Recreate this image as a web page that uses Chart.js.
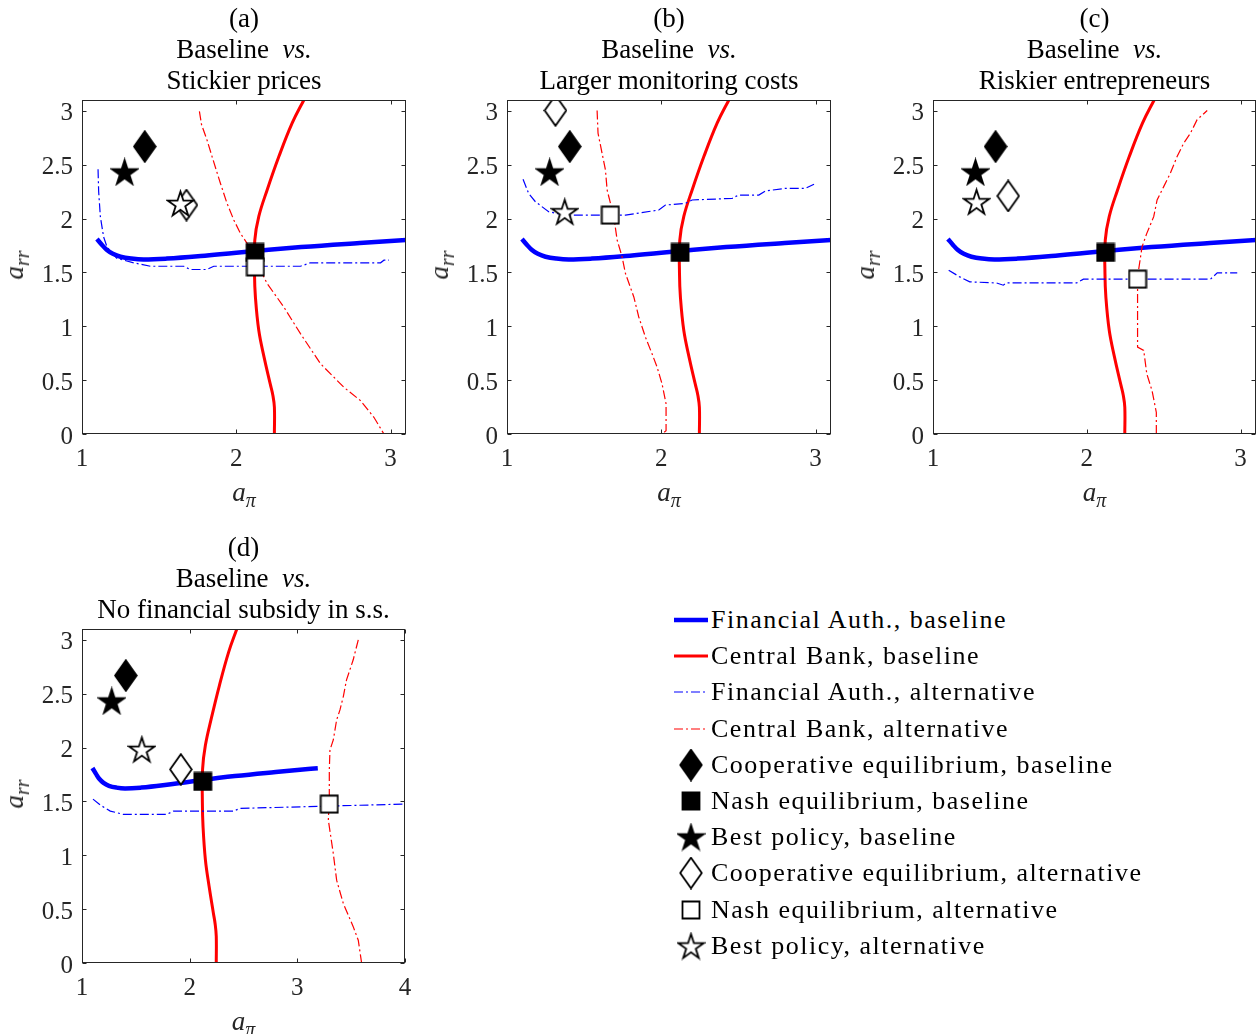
<!DOCTYPE html>
<html><head><meta charset="utf-8">
<script src="https://cdn.jsdelivr.net/npm/chart.js@4.4.1/dist/chart.umd.min.js"></script>
<style>
html,body{margin:0;padding:0;background:#fff;overflow:hidden;width:1256px;height:1034px;}
.abs{position:absolute;}
.title{font-family:"Liberation Serif",serif;font-size:27px;line-height:31px;text-align:center;color:#000;white-space:nowrap;transform:translateX(-50%);}
.lbl{font-family:"Liberation Serif",serif;font-size:27px;font-style:italic;color:#262626;white-space:nowrap;line-height:30px;}
.lbl sub{font-size:20px;vertical-align:-6px;}
.leg{position:absolute;left:673px;height:36px;display:flex;align-items:center;font-family:"Liberation Serif",serif;font-size:26px;letter-spacing:1.5px;color:#000;white-space:nowrap;}
.leg canvas{margin-right:2px;}
</style></head><body>
<script>
// ---------------- DATA ----------------
const panelLabels = ['(a)', '(b)', '(c)', '(d)'];
const panelSubtitles = ['Stickier prices', 'Larger monitoring costs', 'Riskier entrepreneurs', 'No financial subsidy in s.s.'];
const xTicksABC = [1, 2, 3];
const xTicksD = [1, 2, 3, 4];
const yTicks = [0, 0.5, 1, 1.5, 2, 2.5, 3];
const legendLabels = ['Financial Auth., baseline', 'Central Bank, baseline', 'Financial Auth., alternative', 'Central Bank, alternative',
  'Cooperative equilibrium, baseline', 'Nash equilibrium, baseline', 'Best policy, baseline',
  'Cooperative equilibrium, alternative', 'Nash equilibrium, alternative', 'Best policy, alternative'];

// Baseline reaction functions (same in every panel)
const faBaseX = [1.097, 1.13, 1.16, 1.2, 1.25, 1.32, 1.40, 1.55, 1.77, 2.0, 2.42, 2.8, 3.1, 3.19];
const faBaseY = [1.81, 1.755, 1.71, 1.672, 1.645, 1.628, 1.62, 1.628, 1.652, 1.683, 1.735, 1.773, 1.80, 1.807];
const cbBaseX = [2.247, 2.247, 2.237, 2.22, 2.18, 2.146, 2.124, 2.118, 2.12, 2.146, 2.2, 2.276, 2.362, 2.438, 2.46];
const cbBaseY = [0, 0.248, 0.36, 0.465, 0.714, 0.96, 1.27, 1.49, 1.80, 2.02, 2.265, 2.575, 2.885, 3.10, 3.16];

// Baseline equilibria
const coopBaseX = 1.407, coopBaseY = 2.668;
const nashBaseX = 2.122, nashBaseY = 1.685;
const bestBaseX = 1.276, bestBaseY = 2.432;

// Alternative equilibria, panels a-d
const coopAltX = [1.677, 1.314, 1.489, 1.918];
const coopAltY = [2.125, 3.003, 2.209, 1.797];
const nashAltX = [2.124, 1.670, 2.330, 3.297];
const nashAltY = [1.551, 2.032, 1.437, 1.475];
const bestAltX = [1.638, 1.374, 1.283, 1.556];
const bestAltY = [2.140, 2.063, 2.156, 1.983];

// Alternative reaction functions
const faAltAX = [1.104, 1.108, 1.119, 1.14, 1.162, 1.2, 1.227, 1.335, 1.443, 1.66, 1.70, 1.81, 1.854, 2.416, 2.48, 2.935, 2.957, 2.99];
const faAltAY = [2.457, 2.25, 2.017, 1.83, 1.737, 1.67, 1.63, 1.589, 1.557, 1.557, 1.527, 1.527, 1.557, 1.557, 1.589, 1.589, 1.613, 1.613];
const cbAltAX = [1.761, 1.775, 1.81, 1.843, 1.897, 1.94, 1.984, 2.027, 2.07, 2.124, 2.2, 2.308, 2.416, 2.546, 2.697, 2.805, 2.892, 2.957];
const cbAltAY = [2.994, 2.87, 2.73, 2.575, 2.327, 2.141, 1.986, 1.862, 1.769, 1.613, 1.396, 1.179, 0.931, 0.652, 0.434, 0.31, 0.155, 0];

const faAltBX = [1.104, 1.14, 1.184, 1.27, 1.378, 1.768, 1.984, 2.027, 2.157, 2.2, 2.46, 2.5, 2.632, 2.676, 2.805, 2.935, 2.99];
const faAltBY = [2.364, 2.234, 2.156, 2.063, 2.032, 2.032, 2.079, 2.125, 2.141, 2.172, 2.187, 2.218, 2.218, 2.256, 2.28, 2.28, 2.318];
const cbAltBX = [1.584, 1.59, 1.638, 1.649, 1.692, 1.714, 1.746, 1.768, 1.822, 1.854, 1.897, 1.94, 1.973, 2.005, 2.031, 2.031, 2.005];
const cbAltBY = [3.003, 2.792, 2.451, 2.265, 2.017, 1.80, 1.644, 1.489, 1.272, 1.086, 0.9, 0.745, 0.62, 0.465, 0.279, 0.031, 0];

const faAltCX = [1.102, 1.174, 1.239, 1.413, 1.457, 1.478, 1.935, 1.978, 2.804, 2.848, 2.978];
const faAltCY = [1.52, 1.458, 1.412, 1.402, 1.381, 1.402, 1.402, 1.437, 1.437, 1.495, 1.495];
const cbAltCX = [2.452, 2.452, 2.424, 2.39, 2.37, 2.33, 2.33, 2.359, 2.39, 2.435, 2.457, 2.5, 2.543, 2.587, 2.63, 2.674, 2.717, 2.783];
const cbAltCY = [0, 0.2, 0.403, 0.558, 0.776, 0.807, 1.458, 1.737, 1.862, 2.017, 2.172, 2.296, 2.42, 2.575, 2.699, 2.792, 2.917, 3.003];

const faAltDX = [1.102, 1.17, 1.263, 1.386, 1.788, 1.85, 2.406, 2.468, 3.998];
const faAltDY = [1.521, 1.466, 1.41, 1.379, 1.379, 1.41, 1.41, 1.435, 1.475];
const cbAltDX = [3.566, 3.519, 3.457, 3.427, 3.396, 3.365, 3.334, 3.303, 3.297, 3.297, 3.288, 3.334, 3.365, 3.427, 3.52, 3.566, 3.597];
const cbAltDY = [3.0, 2.814, 2.628, 2.473, 2.349, 2.256, 2.07, 1.977, 1.791, 1.543, 1.326, 1.016, 0.769, 0.552, 0.335, 0.211, 0];

const faAltXs = [faAltAX, faAltBX, faAltCX, faAltDX];
const faAltYs = [faAltAY, faAltBY, faAltCY, faAltDY];
const cbAltXs = [cbAltAX, cbAltBX, cbAltCX, cbAltDX];
const cbAltYs = [cbAltAY, cbAltBY, cbAltCY, cbAltDY];

// ---------------- LAYOUT ----------------
const panels = [
  {L: 82, T: 100, R: 406, B: 434, xMax: 3.1, xTicks: xTicksABC},
  {L: 507, T: 100, R: 831, B: 434, xMax: 3.1, xTicks: xTicksABC},
  {L: 933, T: 100, R: 1256, B: 434, xMax: 3.1, xTicks: xTicksABC},
  {L: 82, T: 629, R: 405, B: 963, xMax: 4, xTicks: xTicksD}
];
const PADL = 80, PADT = 15, PADR = 12, PADB = 45;
const tickFont = {family: '"Liberation Serif", serif', size: 25};
const axisColor = '#262626';

function xy(xs, ys) { return xs.map((v, i) => ({x: v, y: ys[i]})); }

function makeMarker(kind, filled) {
  const c = document.createElement('canvas');
  let w, h;
  if (kind === 'diamond') { w = 24; h = 33; } else if (kind === 'square') { w = 20; h = 20; } else { w = 29; h = 29; }
  c.width = w; c.height = h;
  const g = c.getContext('2d');
  g.lineWidth = 1.8; g.strokeStyle = '#000'; g.fillStyle = filled ? '#000' : '#fff';
  g.lineJoin = 'miter';
  g.beginPath();
  if (kind === 'diamond') {
    g.moveTo(w / 2, 1.2); g.lineTo(w - 1.2, h / 2); g.lineTo(w / 2, h - 1.2); g.lineTo(1.2, h / 2); g.closePath();
  } else if (kind === 'square') {
    g.rect(1.5, 1.5, w - 3, h - 3);
  } else {
    const R = 13.2, r = R * 0.382, cx = w / 2, cy = h / 2 + 1.3;
    for (let i = 0; i < 10; i++) {
      const a = -Math.PI / 2 + i * Math.PI / 5, rr = i % 2 ? r : R;
      const px = cx + rr * Math.cos(a), py = cy + rr * Math.sin(a);
      if (i) g.lineTo(px, py); else g.moveTo(px, py);
    }
    g.closePath();
  }
  g.fill(); g.stroke();
  return c;
}
const mk = {
  dF: makeMarker('diamond', true), dO: makeMarker('diamond', false),
  sF: makeMarker('square', true), sO: makeMarker('square', false),
  pF: makeMarker('star', true), pO: makeMarker('star', false)
};

const framePlugin = {
  id: 'frame',
  afterDraw(chart) {
    const {ctx, chartArea: a, scales: {x, y}} = chart;
    ctx.save();
    ctx.strokeStyle = axisColor; ctx.lineWidth = 1;
    const l = Math.round(a.left) + 0.5, r = Math.round(a.right) - 0.5, t = Math.round(a.top) + 0.5, b = Math.round(a.bottom) - 0.5;
    ctx.strokeRect(l, t, r - l, b - t);
    const tl = 4;
    ctx.beginPath();
    x.ticks.forEach(tk => {
      const px = Math.round(x.getPixelForValue(tk.value)) + 0.5;
      ctx.moveTo(px, b); ctx.lineTo(px, b - tl);
      ctx.moveTo(px, t); ctx.lineTo(px, t + tl);
    });
    y.ticks.forEach(tk => {
      const py = Math.round(y.getPixelForValue(tk.value)) + 0.5;
      ctx.moveTo(l, py); ctx.lineTo(l + tl, py);
      ctx.moveTo(r, py); ctx.lineTo(r - tl, py);
    });
    ctx.stroke();
    ctx.restore();
  }
};

function lineDS(data, color, width, dash, order, tension) {
  return {data, showLine: true, borderColor: color, backgroundColor: color, borderWidth: width, borderDash: dash,
    pointRadius: 0, pointHoverRadius: 0, tension: tension, order, fill: false, borderCapStyle: 'butt'};
}
function ptDS(x, y, img, order) {
  return {data: [{x, y}], showLine: false, pointStyle: img, pointRadius: 12, order};
}

const DD = [9, 3, 2, 3];

function zeroPad(s) { s.paddingTop = 0; s.paddingBottom = 0; s.paddingLeft = 0; s.paddingRight = 0; }

panels.forEach((p, i) => {
  const W = (p.R - p.L) + PADL + PADR, H = (p.B - p.T) + PADT + PADB;
  const cv = document.createElement('canvas');
  cv.width = W; cv.height = H;
  cv.className = 'abs';
  cv.style.left = (p.L - PADL) + 'px'; cv.style.top = (p.T - PADT) + 'px';
  cv.style.width = W + 'px'; cv.style.height = H + 'px';
  document.body.appendChild(cv);

  const datasets = [
    lineDS(xy(faBaseX, faBaseY), '#0000ff', 4.5, [], 10, 0.4),
    lineDS(xy(cbBaseX, cbBaseY), '#ff0000', 3, [], 9, 0.4),
    lineDS(xy(faAltXs[i], faAltYs[i]), '#0000ff', 1.2, DD, 8, 0),
    lineDS(xy(cbAltXs[i], cbAltYs[i]), '#ff0000', 1.2, DD, 7, 0),
    ptDS(coopBaseX, coopBaseY, mk.dF, 6),
    ptDS(nashBaseX, nashBaseY, mk.sF, 5),
    ptDS(bestBaseX, bestBaseY, mk.pF, 4),
    ptDS(coopAltX[i], coopAltY[i], mk.dO, 3),
    ptDS(nashAltX[i], nashAltY[i], mk.sO, 2),
    ptDS(bestAltX[i], bestAltY[i], mk.pO, 1)
  ];

  new Chart(cv, {
    type: 'scatter',
    data: {datasets},
    plugins: [framePlugin],
    options: {
      responsive: false, animation: false, devicePixelRatio: 1,
      layout: {padding: {top: PADT, right: PADR, left: 0, bottom: 0}, autoPadding: false},
      plugins: {legend: {display: false}, tooltip: {enabled: false}, title: {display: false}},
      scales: {
        x: {
          type: 'linear', min: 1, max: p.xMax, position: 'bottom',
          afterBuildTicks: s => { s.ticks = p.xTicks.map(v => ({value: v})); },
          afterFit: s => { s.height = PADB; zeroPad(s); },
          ticks: {font: tickFont, color: axisColor, padding: 10, maxRotation: 0, autoSkip: false, callback: v => String(v)},
          grid: {display: false, drawTicks: false}, border: {display: false}
        },
        y: {
          type: 'linear', min: 0, max: 3.1, position: 'left',
          afterBuildTicks: s => { s.ticks = yTicks.map(v => ({value: v})); },
          afterFit: s => { s.width = PADL; zeroPad(s); },
          ticks: {font: tickFont, color: axisColor, padding: 9, labelOffset: 3, autoSkip: false, callback: v => String(v)},
          grid: {display: false, drawTicks: false}, border: {display: false}
        }
      }
    }
  });

  // titles
  const cx = (p.L + p.R) / 2;
  const t = document.createElement('div');
  t.className = 'abs title';
  t.style.left = cx + 'px'; t.style.top = (p.T - 97) + 'px';
  t.innerHTML = panelLabels[i] + '<br>Baseline&nbsp; <i>vs.</i><br>' + panelSubtitles[i];
  document.body.appendChild(t);

  // x label
  const xl = document.createElement('div');
  xl.className = 'abs lbl';
  xl.innerHTML = '<i>a</i><sub><i>π</i></sub>';
  xl.style.left = cx + 'px'; xl.style.top = (p.B + 62) + 'px';
  xl.style.transform = 'translate(-50%,-50%)';
  document.body.appendChild(xl);

  // y label
  const yl = document.createElement('div');
  yl.className = 'abs lbl';
  yl.innerHTML = '<i>a</i><sub><i>rr</i></sub>';
  yl.style.left = (p.L - 64) + 'px'; yl.style.top = ((p.T + p.B) / 2 - 2) + 'px';
  yl.style.transform = 'translate(-50%,-50%) rotate(-90deg)';
  document.body.appendChild(yl);
});

// ---------------- LEGEND ----------------
function legendIcon(i) {
  const c = document.createElement('canvas');
  c.width = 36; c.height = 36;
  const g = c.getContext('2d');
  if (i < 4) {
    g.strokeStyle = (i % 2 === 0) ? '#0000ff' : '#ff0000';
    g.lineWidth = i === 0 ? 4.5 : (i === 1 ? 3 : 1.2);
    g.setLineDash(i < 2 ? [] : DD);
    g.beginPath(); g.moveTo(1, 18); g.lineTo(35, 18); g.stroke();
  } else {
    const imgs = [mk.dF, mk.sF, mk.pF, mk.dO, mk.sO, mk.pO];
    const im = imgs[i - 4];
    g.drawImage(im, 18 - im.width / 2, 18 - im.height / 2);
  }
  return c;
}
legendLabels.forEach((lab, i) => {
  const row = document.createElement('div');
  row.className = 'leg';
  row.style.top = (602 + i * 36.2) + 'px';
  row.appendChild(legendIcon(i));
  const s = document.createElement('span');
  s.textContent = lab;
  row.appendChild(s);
  document.body.appendChild(row);
});
</script>
</body></html>
